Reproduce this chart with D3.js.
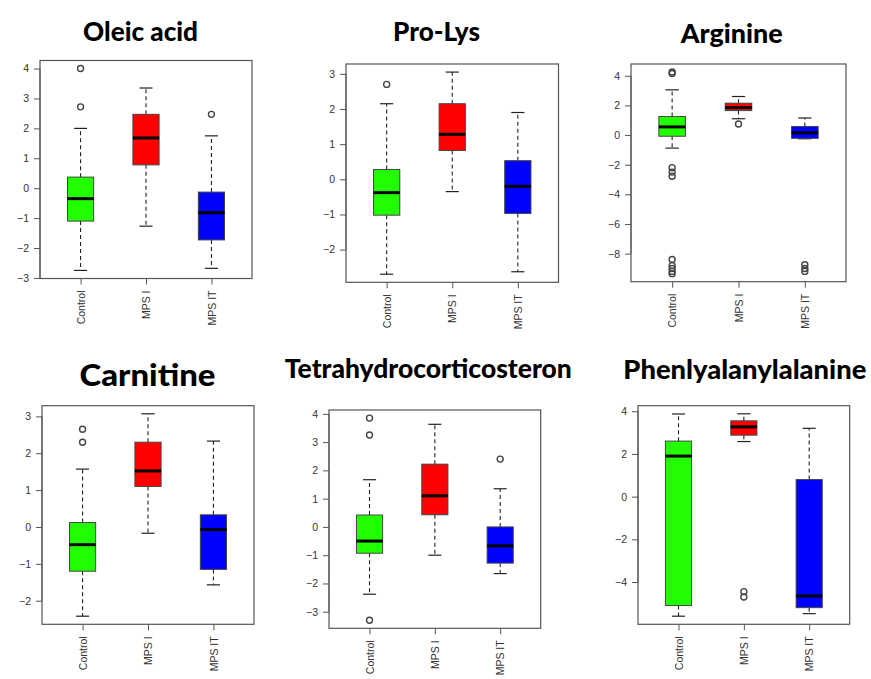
<!DOCTYPE html>
<html><head><meta charset="utf-8">
<script src="https://cdn.jsdelivr.net/npm/d3@7"></script>
<style>html,body{margin:0;padding:0;background:#fff}</style>
</head><body>
<svg id="c" width="871" height="679"></svg>
<script>
const groups = ["Control", "MPS I", "MPS IT"];
const groupColors = ["#22ff00", "#ff0000", "#0000ff"];

// stats per group: [lower whisker, Q1, median, Q3, upper whisker]
const oleicStats = [[-2.75, -1.1, -0.35, 0.37, 2.0], [-1.27, 0.78, 1.68, 2.47, 3.35], [-2.68, -1.73, -0.82, -0.13, 1.75]];
const oleicOutliers = [[4.0, 2.72], [], [2.47]];
const oleicTicks = [-3, -2, -1, 0, 1, 2, 3, 4];

const proLysStats = [[-2.7, -1.02, -0.38, 0.28, 2.15], [-0.35, 0.82, 1.28, 2.15, 3.05], [-2.63, -0.97, -0.2, 0.53, 1.9]];
const proLysOutliers = [[2.7], [], []];
const proLysTicks = [-2, -1, 0, 1, 2, 3];

const arginineStats = [[-0.88, -0.08, 0.55, 1.25, 3.05], [1.1, 1.65, 1.85, 2.15, 2.6], [-0.25, -0.22, 0.15, 0.58, 1.15]];
const arginineOutliers = [[4.25, 4.15, -2.2, -2.5, -2.78, -8.4, -8.8, -9.0, -9.2, -9.35], [0.75], [-8.75, -9.0, -9.2]];
const arginineTicks = [-8, -6, -4, -2, 0, 2, 4];

const carnitineStats = [[-2.42, -1.2, -0.48, 0.12, 1.57], [-0.17, 1.1, 1.52, 2.3, 3.07], [-1.57, -1.15, -0.07, 0.33, 2.33]];
const carnitineOutliers = [[2.65, 2.3], [], []];
const carnitineTicks = [-2, -1, 0, 1, 2, 3];

const thcStats = [[-2.38, -0.93, -0.5, 0.42, 1.67], [-1.0, 0.43, 1.1, 2.22, 3.63], [-1.65, -1.28, -0.67, 0.0, 1.35]];
const thcOutliers = [[3.85, 3.25, -3.3], [], [2.4]];
const thcTicks = [-3, -2, -1, 0, 1, 2, 3, 4];

const pheStats = [[-5.6, -5.1, 1.9, 2.6, 3.87], [2.58, 2.88, 3.27, 3.55, 3.88], [-5.48, -5.2, -4.65, 0.8, 3.2]];
const pheOutliers = [[], [-4.45, -4.7], []];
const pheTicks = [-4, -2, 0, 2, 4];

const titles = ["Oleic acid", "Pro-Lys", "Arginine", "Carnitine", "Tetrahydrocorticosteron", "Phenlyalanylalanine"];

const panels = [
  {title: titles[0], stats: oleicStats, outliers: oleicOutliers, ticks: oleicTicks,
   box: [40, 252, 60.5, 278.5], t: [140.5, 41, 115]},
  {title: titles[1], stats: proLysStats, outliers: proLysOutliers, ticks: proLysTicks,
   box: [346, 558.5, 64, 282.3], t: [436.5, 41, 87]},
  {title: titles[2], stats: arginineStats, outliers: arginineOutliers, ticks: arginineTicks,
   box: [631, 846, 64, 281.7], t: [731.7, 43, 102]},
  {title: titles[3], stats: carnitineStats, outliers: carnitineOutliers, ticks: carnitineTicks,
   box: [42, 254, 405.7, 624.3], t: [147.5, 386, 136]},
  {title: titles[4], stats: thcStats, outliers: thcOutliers, ticks: thcTicks,
   box: [329, 540.7, 410, 628.3], t: [428.3, 378, 287]},
  {title: titles[5], stats: pheStats, outliers: pheOutliers, ticks: pheTicks,
   box: [638, 849.7, 405.7, 624.3], t: [744.8, 379, 243]}
];

const svg = d3.select("#c");

panels.forEach(p => {
  const [x0, x1, y0, y1] = p.box;
  const all = p.stats.flat().concat(p.outliers.flat());
  const lo = d3.min(all), hi = d3.max(all), ext = (hi - lo) * 0.04;
  const y = d3.scaleLinear().domain([lo - ext, hi + ext]).range([y1, y0]);
  const x = d3.scaleLinear().domain([0.38, 3.62]).range([x0, x1]);
  const bw = x(1.4) - x(1.0);
  const g = svg.append("g");

  // title: size the font so the natural width is close to the target, then fit exactly
  const tt = g.append("text").attr("x", p.t[0]).attr("y", p.t[1])
    .attr("text-anchor", "middle")
    .attr("font-family", "Lato, 'Open Sans', sans-serif")
    .attr("font-weight", "900").attr("font-size", 25)
    .attr("fill", "#000").text(p.title);
  const nat = tt.node().getComputedTextLength();
  const fs = Math.max(22, Math.min(30, 25 * Math.pow(p.t[2] / nat, 0.7)));
  tt.attr("font-size", fs).attr("textLength", p.t[2]).attr("lengthAdjust", "spacingAndGlyphs");

  // boxes
  p.stats.forEach((s, i) => {
    const cx = x(i + 1);
    const [wl, q1, md, q3, wh] = s;
    g.append("line").attr("x1", cx).attr("x2", cx).attr("y1", y(q3)).attr("y2", y(wh))
      .attr("stroke", "#222").attr("stroke-width", 1.1).attr("stroke-dasharray", "4,3");
    g.append("line").attr("x1", cx).attr("x2", cx).attr("y1", y(q1)).attr("y2", y(wl))
      .attr("stroke", "#222").attr("stroke-width", 1.1).attr("stroke-dasharray", "4,3");
    [wl, wh].forEach(v => g.append("line").attr("x1", cx - bw / 4).attr("x2", cx + bw / 4)
      .attr("y1", y(v)).attr("y2", y(v)).attr("stroke", "#222").attr("stroke-width", 1.2));
    g.append("rect").attr("x", cx - bw / 2).attr("width", bw)
      .attr("y", y(q3)).attr("height", y(q1) - y(q3))
      .attr("fill", groupColors[i]).attr("stroke", "#444").attr("stroke-width", 1);
    g.append("line").attr("x1", cx - bw / 2).attr("x2", cx + bw / 2)
      .attr("y1", y(md)).attr("y2", y(md)).attr("stroke", "#000").attr("stroke-width", 3);
    p.outliers[i].forEach(v => g.append("circle").attr("cx", cx).attr("cy", y(v)).attr("r", 3)
      .attr("fill", "none").attr("stroke", "#444").attr("stroke-width", 1.4));
  });

  // plot frame
  g.append("rect").attr("x", x0).attr("y", y0).attr("width", x1 - x0).attr("height", y1 - y0)
    .attr("fill", "none").attr("stroke", "#555").attr("stroke-width", 1.2);

  // y axis
  const ya = g.append("g").attr("transform", `translate(${x0},0)`)
    .call(d3.axisLeft(y).tickValues(p.ticks).tickSize(6).tickPadding(5).tickFormat(d3.format("d")));
  ya.select(".domain").attr("d", `M0,${y(p.ticks[0])}V${y(p.ticks[p.ticks.length - 1])}`).attr("stroke", "#555");
  ya.selectAll(".tick line").attr("stroke", "#555");
  ya.selectAll(".tick text").attr("font-family", "'Liberation Sans', Arial, sans-serif")
    .attr("font-size", 10.5).attr("fill", "#333");

  // x axis
  const xa = g.append("g").attr("transform", `translate(0,${y1})`)
    .call(d3.axisBottom(x).tickValues([1, 2, 3]).tickSize(6).tickFormat((d, i) => groups[i]));
  xa.select(".domain").remove();
  xa.selectAll(".tick line").attr("stroke", "#555");
  xa.selectAll(".tick text").attr("font-family", "'Liberation Sans', Arial, sans-serif")
    .attr("font-size", 10.5).attr("fill", "#333")
    .attr("transform", "rotate(-90)").attr("text-anchor", "end")
    .attr("x", -12).attr("y", 0).attr("dy", "0.35em");
});
</script>
</body></html>
